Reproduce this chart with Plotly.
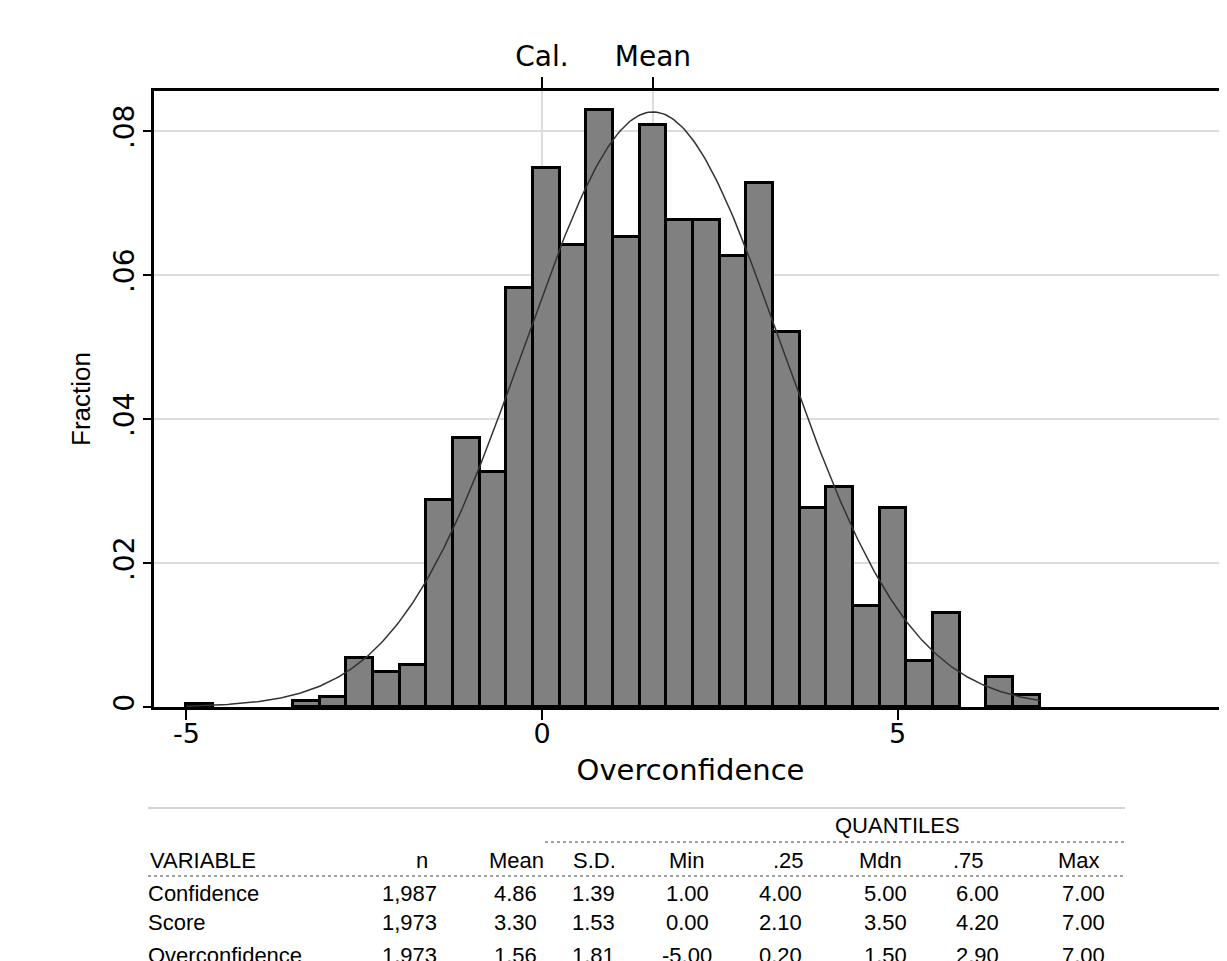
import numpy as np
import plotly.graph_objects as go

# ---------------- data ----------------
bin_start = -5.0
bin_width = 0.375
fractions = [0.0004, 0.0, 0.0, 0.0, 0.0008, 0.0014, 0.0068, 0.0048,
             0.0058, 0.0288, 0.0373, 0.0327, 0.0582, 0.0749, 0.0642, 0.0829,
             0.0653, 0.0809, 0.0677, 0.0677, 0.0627, 0.0728, 0.0521, 0.0276,
             0.0306, 0.0140, 0.0276, 0.0064, 0.0130, 0.0, 0.0042, 0.0017]

x_ticks = [-5, 0, 5]
x_ticktext = ["-5", "0", "5"]
y_ticks = [0, 0.02, 0.04, 0.06, 0.08]
y_ticktext = ["0", ".02", ".04", ".06", ".08"]
top_ticks = [0, 1.56]
top_ticktext = ["Cal.", "Mean"]

oc_mean = 1.56
oc_sd = 1.81
oc_min = -5.0
oc_max = 7.0

tbl_header = ["VARIABLE", "n", "Mean", "S.D.", "Min", ".25", "Mdn", ".75", "Max"]
tbl_vars = ["Confidence", "Score", "Overconfidence"]
tbl_n = ["1,987", "1,973", "1,973"]
tbl_mean = ["4.86", "3.30", "1.56"]
tbl_sd = ["1.39", "1.53", "1.81"]
tbl_min = ["1.00", "0.00", "-5.00"]
tbl_q25 = ["4.00", "2.10", "0.20"]
tbl_mdn = ["5.00", "3.50", "1.50"]
tbl_q75 = ["6.00", "4.20", "2.90"]
tbl_max = ["7.00", "7.00", "7.00"]

# ---------------- layout geometry ----------------
# the page body has an 8px margin, so the figure is drawn 8px smaller and offset
OFF = 8
W, H = 1227 - OFF, 961 - OFF
L, R, T, B = 154, 1227, 91, 707          # plot area in window pixels
x_lo, x_hi = -5.457, 9.634
y_lo, y_hi = 0.0, 0.08556

def px(xp):
    return (xp - L) / (R - L)

def py(yp):
    return (B - yp) / (B - T)

CHART_FONT = "DejaVu Sans, Liberation Sans, Arial, sans-serif"
TABLE_FONT = "Liberation Sans, Arial, sans-serif"

centers = bin_start + bin_width * (np.arange(len(fractions)) + 0.5)
heights = [f if f > 0 else None for f in fractions]

xc = np.linspace(oc_min, oc_max, 400)
yc = bin_width * np.exp(-0.5 * ((xc - oc_mean) / oc_sd) ** 2) / (oc_sd * np.sqrt(2 * np.pi))

fig = go.Figure()
fig.add_trace(go.Bar(x=centers, y=heights, width=bin_width,
                     marker=dict(color="#808080", line=dict(color="black", width=3)),
                     showlegend=False, hoverinfo="skip"))
fig.add_trace(go.Scatter(x=xc, y=yc, mode="lines",
                         line=dict(color="#333333", width=1.5),
                         showlegend=False, hoverinfo="skip"))
fig.add_trace(go.Scatter(x=[None], y=[None], xaxis="x2", mode="lines",
                         showlegend=False, hoverinfo="skip"))

fig.update_layout(
    width=W, height=H,
    margin=dict(l=L - OFF, r=0, t=T - OFF, b=(H + OFF) - B, pad=0),
    paper_bgcolor="white", plot_bgcolor="white",
    bargap=0,
    font=dict(family=CHART_FONT, size=27, color="black"),
    xaxis=dict(range=[x_lo, x_hi], tickvals=x_ticks, ticktext=x_ticktext,
               automargin=False,
               showgrid=False, zeroline=False, showline=True, linecolor="black",
               linewidth=2.5, ticks="outside", ticklen=10, tickwidth=1.5, tickcolor="black",
               ticklabelstandoff=-9,
               title=dict(text="Overconfidence", standoff=12, font=dict(size=29)),
               tickfont=dict(size=27)),
    xaxis2=dict(range=[x_lo, x_hi], overlaying="x", side="top", anchor="y",
                automargin=False,
                tickvals=top_ticks, ticktext=top_ticktext,
                showgrid=True, gridcolor="#dcdcdc", gridwidth=2,
                zeroline=False, showline=True, linecolor="black", linewidth=2.5,
                ticks="outside", ticklen=11, tickwidth=1.5, tickcolor="black",
                tickfont=dict(size=28)),
    yaxis=dict(range=[y_lo, y_hi], tickvals=y_ticks, ticktext=y_ticktext,
               automargin=False,
               tickangle=-90, showgrid=True, gridcolor="#dcdcdc", gridwidth=2,
               zeroline=False, showline=True, linecolor="black", linewidth=2.5,
               ticks="outside", ticklen=8, tickwidth=1.5, tickcolor="black",
               tickfont=dict(size=28), ticklabelstandoff=-2,
               title=dict(text="Fraction", standoff=10, font=dict(family=TABLE_FONT, size=26))),
)

# ---------------- table ----------------
shapes = []
shapes.append(dict(type="line", xref="paper", yref="paper",
                   x0=px(148), x1=px(1125), y0=py(808), y1=py(808),
                   line=dict(color="#a8a8a8", width=1)))
shapes.append(dict(type="line", xref="paper", yref="paper",
                   x0=px(545), x1=px(1125), y0=py(842), y1=py(842),
                   line=dict(color="#444444", width=1, dash="dot")))
shapes.append(dict(type="line", xref="paper", yref="paper",
                   x0=px(148), x1=px(1125), y0=py(876), y1=py(876),
                   line=dict(color="#444444", width=1.2, dash="dot")))
fig.update_layout(shapes=shapes)

TF = dict(family=TABLE_FONT, size=22, color="black")

def txt(s, xpix, ypix, anchor="center"):
    fig.add_annotation(text=s, xref="paper", yref="paper", x=px(xpix), y=py(ypix),
                       xanchor=anchor, yanchor="middle", showarrow=False, font=TF)

txt("QUANTILES", 897, 825)

header_x = [148, 422, 516, 594, 686, 788, 880, 968, 1079]
for i, h in enumerate(tbl_header):
    txt(h, header_x[i], 860, "left" if i == 0 else "center")

value_x = [409, 515, 593, 687, 780, 885, 977, 1083]
row_y = [893, 922, 955]
cols = [tbl_n, tbl_mean, tbl_sd, tbl_min, tbl_q25, tbl_mdn, tbl_q75, tbl_max]
for r, var in enumerate(tbl_vars):
    txt(var, 146, row_y[r], "left")
    for c, col in enumerate(cols):
        txt(col[r], value_x[c], row_y[r], "center")

fig.write_html("out.html")
